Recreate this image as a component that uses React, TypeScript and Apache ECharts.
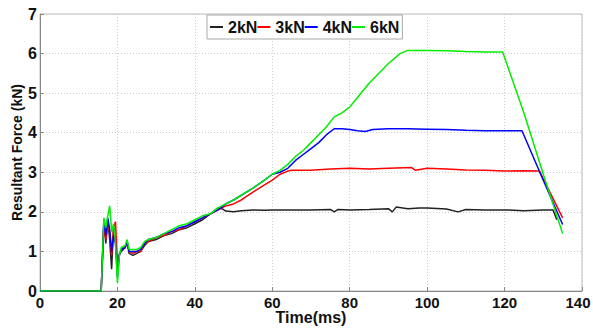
import React, { useEffect, useRef } from "react";
import * as echarts from "echarts";

const seriesNames = ["2kN", "3kN", "4kN", "6kN"];
const seriesColors = ["#222222", "#ff0000", "#0000ff", "#00ee00"];

const tEarly = [0, 15.8, 16.5, 17, 17.5, 18, 18.5, 19, 19.5, 20, 20.5, 21, 22, 22.5, 23, 24, 25, 26, 27, 28, 30, 32, 34, 36, 38, 40, 42, 44, 46];

const v2kNEarly = [0, 0, 1.75, 1.2, 1.8, 1.3, 0.55, 1.6, 1.3, 0.5, 0.95, 1.0, 1.1, 1.25, 0.95, 0.9, 0.95, 1.0, 1.15, 1.25, 1.3, 1.4, 1.45, 1.55, 1.6, 1.7, 1.8, 1.95, 2.1];
const v3kNEarly = [0, 0, 1.7, 1.3, 1.65, 1.5, 0.9, 1.6, 1.75, 0.7, 0.9, 1.05, 1.1, 1.25, 1.0, 0.95, 1.0, 1.0, 1.2, 1.25, 1.35, 1.4, 1.5, 1.55, 1.65, 1.75, 1.85, 1.95, 2.05];
const v4kNEarly = [0, 0, 1.8, 1.4, 1.85, 1.55, 1.0, 1.4, 1.2, 0.35, 0.9, 1.05, 1.1, 1.25, 1.0, 1.0, 1.0, 1.05, 1.2, 1.3, 1.35, 1.45, 1.5, 1.6, 1.65, 1.75, 1.85, 1.95, 2.05];
const v6kNEarly = [0, 0, 1.85, 1.6, 1.9, 2.15, 1.5, 1.7, 1.2, 0.2, 0.9, 1.1, 1.15, 1.3, 1.05, 1.05, 1.05, 1.1, 1.25, 1.3, 1.35, 1.45, 1.55, 1.65, 1.7, 1.8, 1.9, 1.95, 2.1];

const t2kNLate = [47, 48, 50, 52, 55, 58, 60, 65, 70, 75, 76, 77, 80, 85, 90, 91, 92, 95, 98, 100, 105, 108, 110, 115, 120, 125, 130, 132.5, 133.5];
const v2kNLate = [2.08, 2.02, 2.0, 2.03, 2.05, 2.04, 2.05, 2.05, 2.05, 2.06, 2.0, 2.06, 2.05, 2.06, 2.08, 2.0, 2.12, 2.08, 2.1, 2.1, 2.07, 2.0, 2.06, 2.05, 2.05, 2.03, 2.05, 2.05, 1.8];

const t3kNLate = [48, 50, 52, 55, 58, 60, 62, 64, 65, 70, 75, 80, 85, 90, 96, 97, 100, 105, 110, 115, 120, 125, 129, 135];
const v3kNLate = [2.15, 2.2, 2.3, 2.5, 2.68, 2.8, 2.95, 3.03, 3.05, 3.05, 3.08, 3.1, 3.08, 3.1, 3.12, 3.05, 3.1, 3.08, 3.06, 3.05, 3.03, 3.04, 3.03, 1.85];

const t4kNLate = [48, 50, 55, 58, 60, 62, 64, 66, 68, 70, 72, 74, 76, 78, 80, 82, 84, 86, 90, 95, 100, 105, 110, 115, 120, 124.5, 130, 135];
const v4kNLate = [2.2, 2.3, 2.6, 2.8, 2.95, 3.0, 3.1, 3.3, 3.45, 3.6, 3.75, 3.95, 4.1, 4.1, 4.08, 4.05, 4.03, 4.08, 4.1, 4.1, 4.09, 4.08, 4.06, 4.05, 4.05, 4.05, 2.8, 1.68];

const t6kNLate = [48, 50, 55, 58, 60, 62, 64, 66, 68, 70, 72, 74, 76, 78, 80, 85, 90, 93, 95, 100, 105, 110, 115, 119.5, 125, 130, 135];
const v6kNLate = [2.2, 2.3, 2.6, 2.8, 2.95, 3.05, 3.2, 3.4, 3.55, 3.75, 3.95, 4.15, 4.4, 4.5, 4.65, 5.25, 5.75, 6.0, 6.08, 6.08, 6.07, 6.05, 6.04, 6.04, 4.5, 2.95, 1.45];

const xTicks = { min: 0, max: 140, interval: 20 };
const yTicks = { min: 0, max: 7, interval: 1 };

function pairs(t1: number[], v1: number[], t2: number[], v2: number[]) {
  const out: number[][] = [];
  t1.forEach((t, i) => out.push([t, v1[i]]));
  t2.forEach((t, i) => out.push([t, v2[i]]));
  return out;
}

export default function App() {
  const ref = useRef<HTMLDivElement>(null);
  useEffect(() => {
    if (!ref.current) return;
    const chart = echarts.init(ref.current, null, { renderer: "svg" });
    const datasets = [
      pairs(tEarly, v2kNEarly, t2kNLate, v2kNLate),
      pairs(tEarly, v3kNEarly, t3kNLate, v3kNLate),
      pairs(tEarly, v4kNEarly, t4kNLate, v4kNLate),
      pairs(tEarly, v6kNEarly, t6kNLate, v6kNLate),
    ];
    const font = "Liberation Sans, Arial, sans-serif";
    const labelStyle = { fontFamily: font, fontWeight: "bold", fontSize: 15, color: "#111" };
    chart.setOption({
      animation: false,
      backgroundColor: "#ffffff",
      grid: {
        left: 40,
        right: 11,
        top: 14,
        bottom: 39,
        outerBoundsMode: "none",
        containLabel: false,
        show: true,
        borderColor: "#bbbbbb",
        borderWidth: 1,
      },
      legend: {
        data: seriesNames,
        top: 15,
        left: 207,
        padding: [4, 3, 4, 3],
        backgroundColor: "#ffffff",
        borderColor: "#aaaaaa",
        borderWidth: 1,
        borderRadius: 0,
        itemGap: 0,
        itemWidth: 13,
        itemHeight: 2,
        icon: "rect",
        textStyle: { fontFamily: font, fontWeight: "bold", fontSize: 16, color: "#111" },
      },
      xAxis: {
        type: "value",
        min: xTicks.min,
        max: xTicks.max,
        interval: xTicks.interval,
        name: "Time(ms)",
        nameLocation: "middle",
        nameGap: 18,
        nameMoveOverlap: false,
        nameTextStyle: { fontFamily: font, fontWeight: "bold", fontSize: 16, color: "#111" },
        axisLine: { show: true, lineStyle: { color: "#888888" } },
        axisTick: { show: true, inside: true, length: 4, lineStyle: { color: "#888888" } },
        axisLabel: {
          ...labelStyle,
          margin: 4,
          formatter: (v: number) => (v === xTicks.max ? "{last|" + v + "}" : String(v)),
          rich: { last: { ...labelStyle, padding: [0, 8, 0, 0] } },
        },
        splitLine: { show: true, lineStyle: { color: "#cccccc", type: [1, 2] } },
      },
      yAxis: {
        type: "value",
        min: yTicks.min,
        max: yTicks.max,
        interval: yTicks.interval,
        name: "Resultant Force (kN)",
        nameLocation: "middle",
        nameGap: 16,
        nameMoveOverlap: false,
        nameTextStyle: { fontFamily: font, fontWeight: "bold", fontSize: 14, color: "#111" },
        axisLine: { show: true, lineStyle: { color: "#888888" } },
        axisTick: { show: true, inside: true, length: 4, lineStyle: { color: "#888888" } },
        axisLabel: { ...labelStyle, fontSize: 16, margin: 3 },
        splitLine: { show: true, lineStyle: { color: "#cccccc", type: [1, 2] } },
      },
      series: seriesNames.map((name, i) => ({
        name,
        type: "line",
        data: datasets[i],
        showSymbol: false,
        symbol: "none",
        lineStyle: { color: seriesColors[i], width: 1.5 },
        itemStyle: { color: seriesColors[i] },
        z: 2 + i,
      })),
    });
    return () => chart.dispose();
  }, []);
  return <div ref={ref} style={{ width: 593, height: 330, position: "absolute", left: 0, top: 0 }} />;
}
